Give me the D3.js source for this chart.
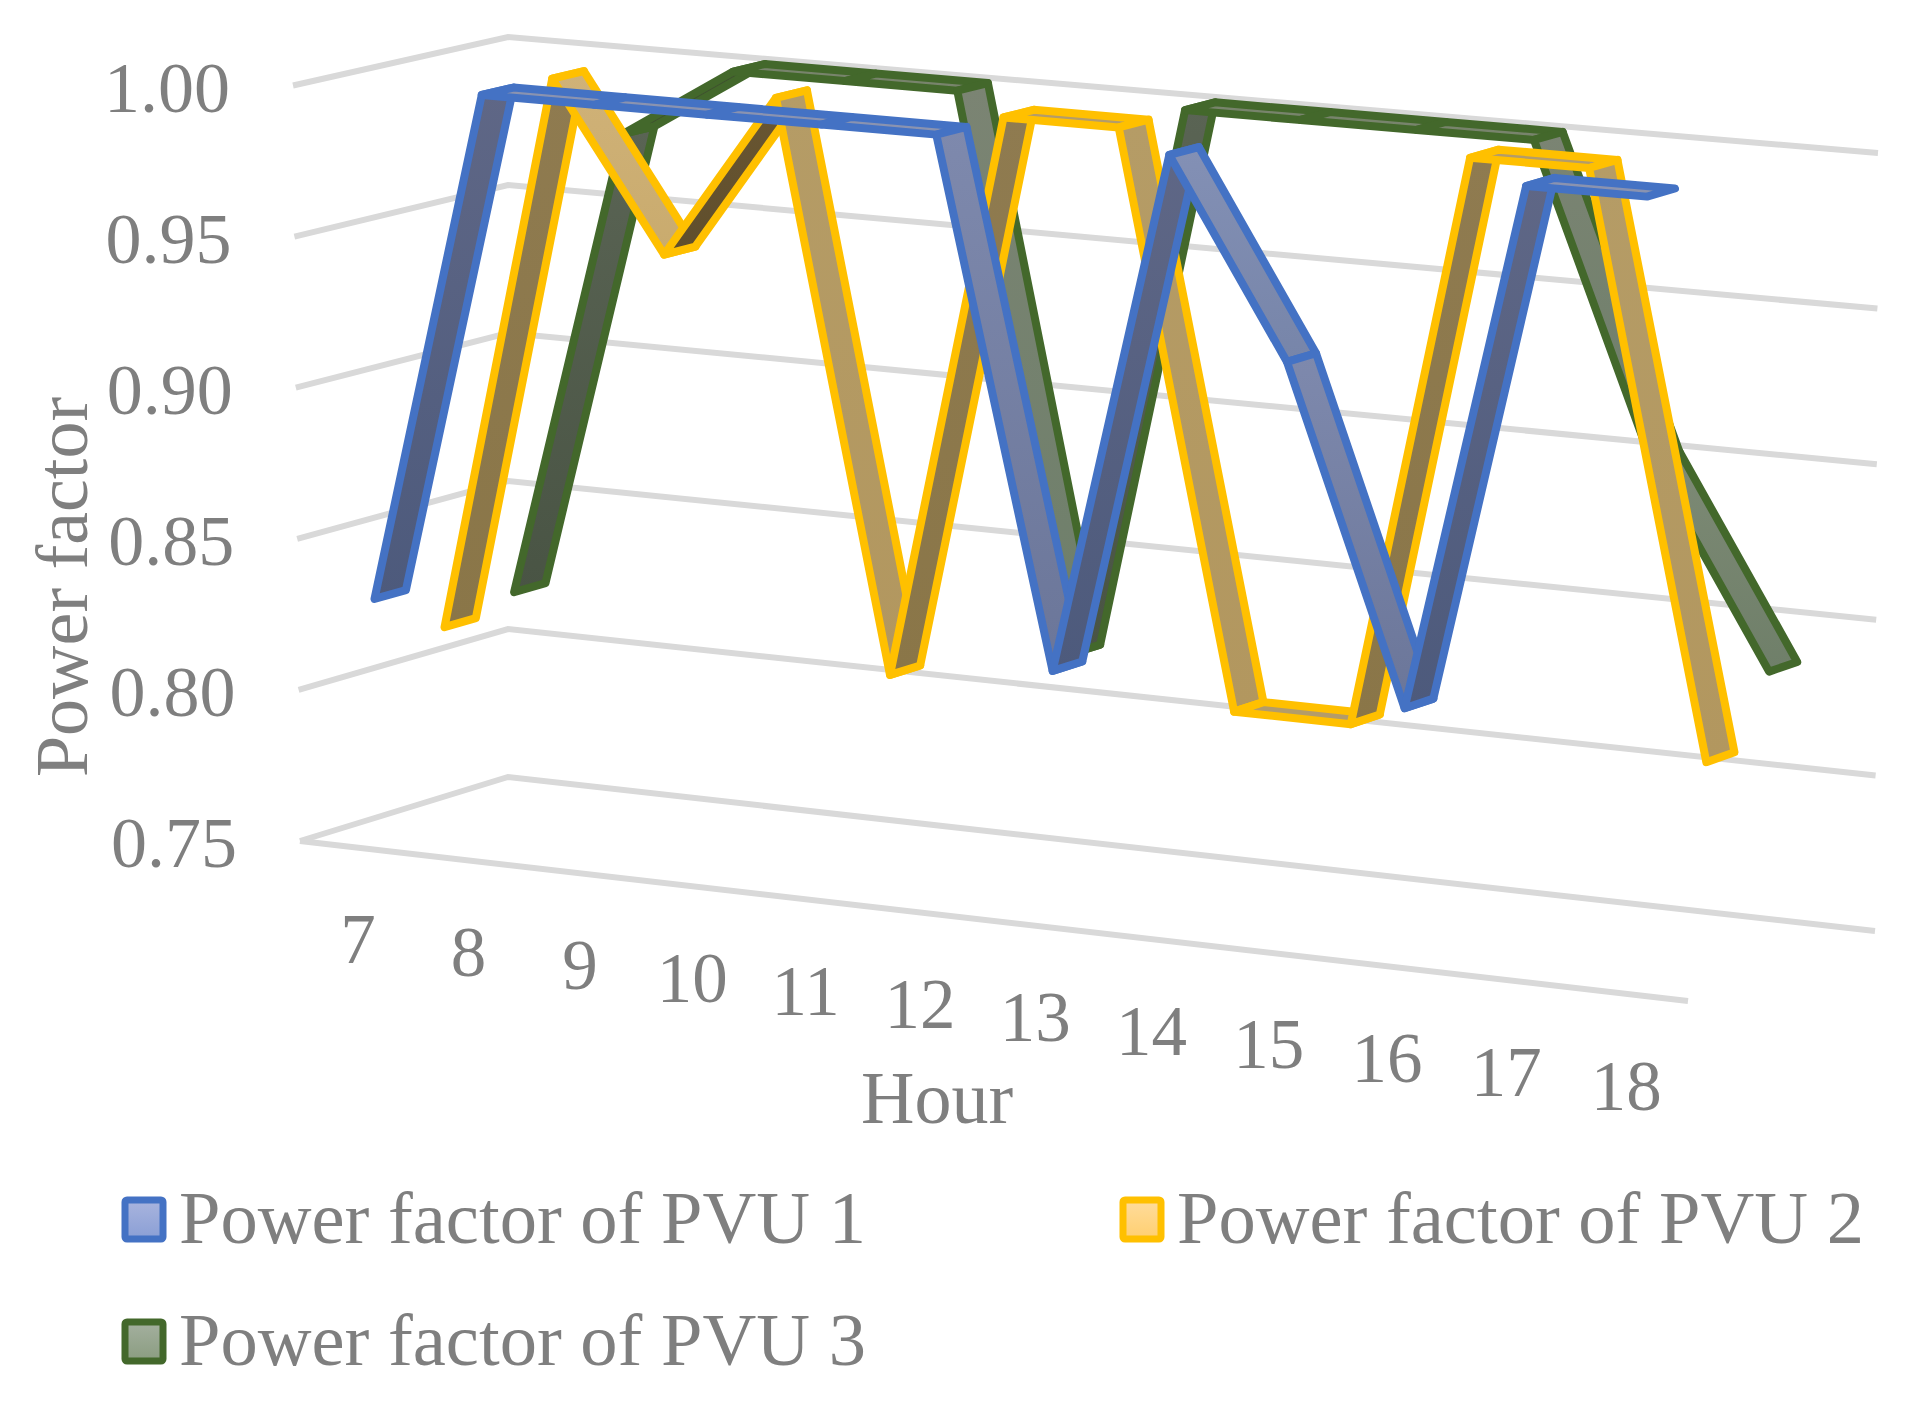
<!DOCTYPE html>
<html>
<head>
<meta charset="utf-8">
<title>Power factor of PVUs by hour</title>
<script src="https://cdn.jsdelivr.net/npm/d3@7/dist/d3.min.js"></script>
<style>
  html, body { margin: 0; padding: 0; background: #fff; }
  svg { display: block; }
  text { font-family: "Liberation Serif", "Times New Roman", serif; fill: #7f7f7f; }
</style>
</head>
<body>
<svg id="chart" width="1915" height="1402"></svg>
<script>
// Chart data
const hours = [7, 8, 9, 10, 11, 12, 13, 14, 15, 16, 17, 18];
const valueTicks = [0.75, 0.80, 0.85, 0.90, 0.95, 1.00];
const seriesNames = ["Power factor of PVU 1", "Power factor of PVU 2", "Power factor of PVU 3"];
const pvu1 = [0.83, 1, 1, 1, 1, 1, 0.83, 1, 0.937, 0.83, 1, 1];
const pvu2 = [0.814, 1, 0.945, 1, 0.814, 1, 1, 0.814, 0.814, 1, 1, 0.814];
const pvu3 = [0.819, 0.976, 1, 1, 1, 0.818, 1, 1, 1, 1, 0.90, 0.836];

const seriesValues = [pvu1, pvu2, pvu3];
const svg = d3.select("#chart");

// Box corners of the 3D plot, as [x, y] on the page.
const box = {
  floor: { frontLeft: [300, 841], frontRight: [1688, 1001], backLeft: [508, 777], backRight: [1875, 931] },
  top:   { frontLeft: [293, 85.5], frontRight: [1693, 208], backLeft: [508, 37], backRight: [1878, 153] }
};

const hourScale = d3.scaleBand().domain(hours).range([0, 0.997]);
const valueScale = d3.scaleLinear().domain([0.75, 1]).range([0, 1]);
const depthScale = d3.scaleBand().domain(seriesNames).range([0.012, 1.012]).paddingInner(0.55).paddingOuter(0.275);

const lerp = (a, b, t) => a + (b - a) * t;
const lerp2 = (p, q, t) => [lerp(p[0], q[0], t), lerp(p[1], q[1], t)];

// Foreshortening along the hour axis: cells widen slightly toward the right.
const foreshorten = u => u + 0.05 * u * (u - 1);

// Maps box coordinates (0..1 each) to the page.
function projectUnit(u, v, w) {
  const uu = foreshorten(u);
  const level = k => {
    const c = box[k];
    return lerp2(lerp2(c.frontLeft, c.frontRight, uu), lerp2(c.backLeft, c.backRight, uu), w);
  };
  return lerp2(level("floor"), level("top"), v);
}
const hourCentre = h => hourScale(h) + hourScale.bandwidth() / 2;
const pointAt = (h, value, w) => projectUnit(hourCentre(h), valueScale(value), w);

// Gridlines on the left and back walls, plus the floor outline
const line = d3.line();
const grid = svg.append("g").attr("fill", "none").attr("stroke", "#d9d9d9").attr("stroke-width", 6);
valueTicks.forEach(t => {
  const v = valueScale(t);
  grid.append("path").attr("d", line([projectUnit(0, v, 0), projectUnit(0, v, 1), projectUnit(1, v, 1)]));
});
grid.append("path").attr("d", line([projectUnit(0, 0, 0), projectUnit(1, 0, 0)]));

// Ribbon shading by direction of travel: [top colour, bottom colour]
const shades = [
  { stroke: "#4472c4", rise: ["#5f6786", "#4d5a7c"], riseShallow: ["#5f6786", "#4d5a7c"], fall: ["#7e89ad", "#6b7699"], fallShallow: ["#8390b5", "#7785a9"], flat: ["#8a93b0", "#8a93b0"] },
  { stroke: "#ffc000", rise: ["#8f7b50", "#8a7648"], riseShallow: ["#6a5733", "#5f4e2c"], fall: ["#b59c66", "#b2975f"], fallShallow: ["#d0b278", "#c9ab6e"], flat: ["#b39c6a", "#b39c6a"] },
  { stroke: "#43682b", rise: ["#5a6454", "#495444"], riseShallow: ["#3f5030", "#3f5030"], fall: ["#7b8473", "#6e7f6a"], fallShallow: ["#7d8a75", "#6f7f69"], flat: ["#78846c", "#78846c"] }
];
const defs = svg.append("defs");
function addGradient(id, colours) {
  const g = defs.append("linearGradient").attr("id", id).attr("x1", 0).attr("y1", 0).attr("x2", 0).attr("y2", 1);
  g.append("stop").attr("offset", "0%").attr("stop-color", colours[0]);
  g.append("stop").attr("offset", "100%").attr("stop-color", colours[1]);
  return `url(#${id})`;
}
const kindOf = d => {
  const diff = d.b - d.a;
  if (Math.abs(diff) < 0.003) return "flat";
  const name = diff > 0 ? "rise" : "fall";
  return Math.abs(diff) < 0.07 ? name + "Shallow" : name;
};

// Ribbons, back row first; segments run left to right so each overlaps the previous one
d3.range(seriesNames.length - 1, -1, -1).forEach(s => {
  const name = seriesNames[s];
  const w0 = depthScale(name);
  const w1 = w0 + depthScale.bandwidth();
  const values = seriesValues[s];
  const segments = d3.pairs(hours.map((h, i) => ({ h, value: values[i] })))
    .map(([p, q]) => ({ h0: p.h, h1: q.h, a: p.value, b: q.value }));

  Object.keys(shades[s]).filter(k => k !== "stroke").forEach(k => addGradient(`ribbon-${s}-${k}`, shades[s][k]));

  svg.append("g").selectAll("path").data(segments).join("path")
    .attr("d", d => line([
      pointAt(d.h0, d.a, w0), pointAt(d.h1, d.b, w0),
      pointAt(d.h1, d.b, w1), pointAt(d.h0, d.a, w1)
    ]) + "Z")
    .attr("fill", d => `url(#ribbon-${s}-${kindOf(d)})`)
    .attr("stroke", shades[s].stroke)
    .attr("stroke-width", 8)
    .attr("stroke-linejoin", "round");
});

// Value labels
svg.append("g").attr("text-anchor", "end").attr("font-size", 72)
  .selectAll("text").data(valueTicks).join("text")
  .attr("x", d => projectUnit(0, valueScale(d), 0)[0] - 63)
  .attr("y", d => projectUnit(0, valueScale(d), 0)[1] + 26)
  .text(d => d3.format(".2f")(d));

// Hour labels along the front floor edge
svg.append("g").attr("text-anchor", "middle").attr("font-size", 71)
  .selectAll("text").data(hours).join("text")
  .attr("x", d => pointAt(d, 0.75, 0)[0] + 3)
  .attr("y", d => pointAt(d, 0.75, 0)[1] + 116)
  .text(d => d);

// Axis titles
svg.append("text").attr("x", 937).attr("y", 1123).attr("text-anchor", "middle").attr("font-size", 74).text("Hour");
svg.append("text").attr("transform", "translate(87,587) rotate(-90)").attr("text-anchor", "middle").attr("font-size", 74).text("Power factor");

// Legend
const legendPos = [[122, 1197], [1120, 1197], [122, 1319]];
const legendFills = [["#a9b4de", "#8a9fd5"], ["#ffdc9c", "#ffcf70"], ["#a4b09f", "#8a9c80"]];
const legend = svg.append("g").selectAll("g").data(seriesNames).join("g")
  .attr("transform", (d, i) => `translate(${legendPos[i][0]},${legendPos[i][1]})`);
legend.append("rect")
  .attr("x", 3).attr("y", 3).attr("width", 38).attr("height", 39).attr("rx", 2)
  .attr("fill", (d, i) => addGradient(`legend-${i}`, legendFills[i]))
  .attr("stroke", (d, i) => shades[i].stroke)
  .attr("stroke-width", 7);
legend.append("text").attr("x", 57).attr("y", 46).attr("font-size", 74.5).text(d => d);
</script>
</body>
</html>
